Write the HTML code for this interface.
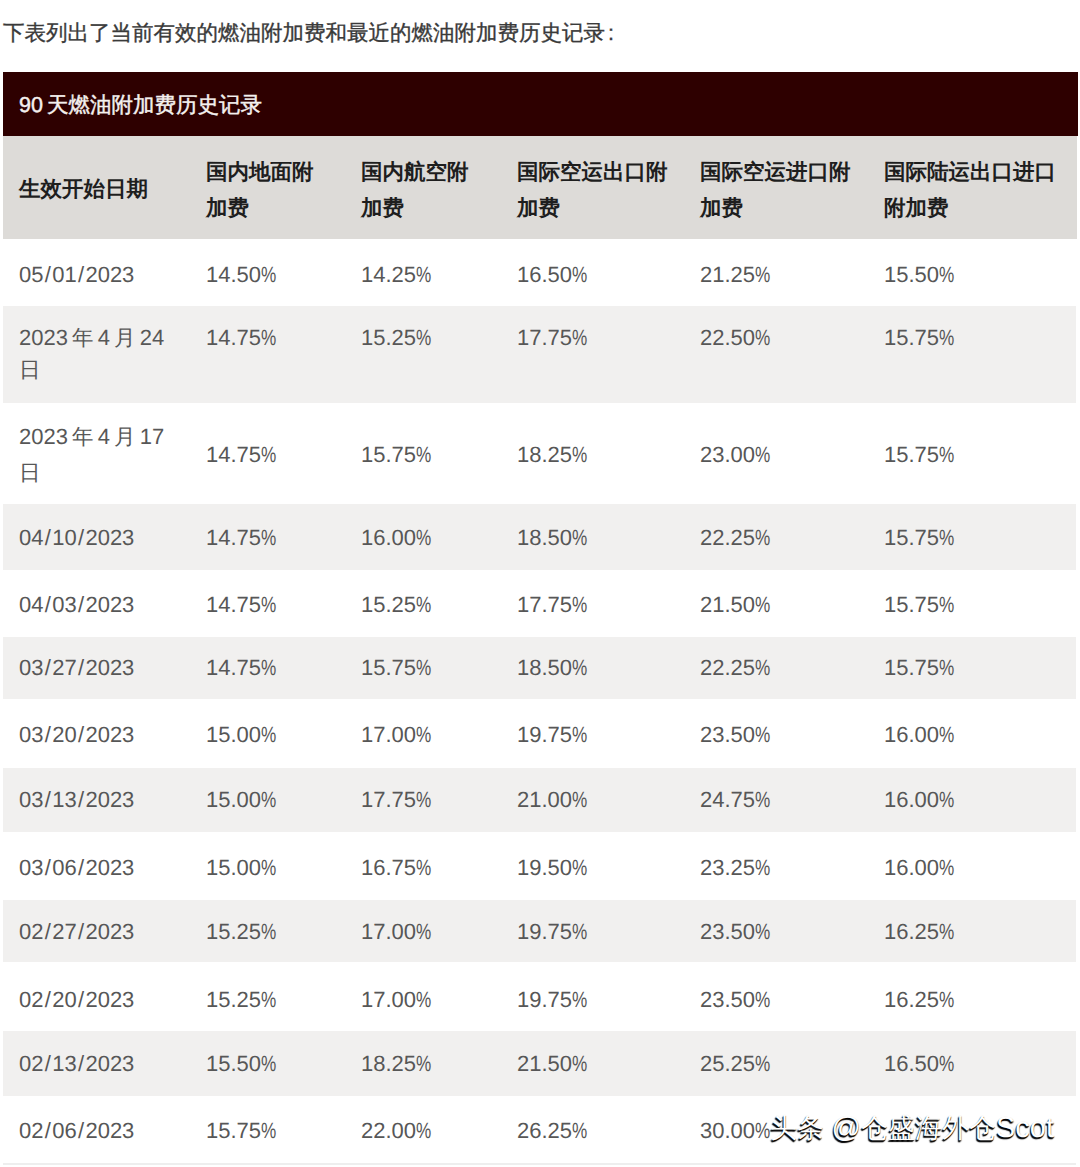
<!DOCTYPE html>
<html><head><meta charset="utf-8"><style>
html,body{margin:0;padding:0;background:#fff;width:1080px;height:1167px;overflow:hidden;position:relative}
body{font-family:"Liberation Sans",sans-serif;text-rendering:geometricPrecision}
.sl{margin:0 1.3px}
.pc{display:inline-block;transform:scaleX(.78);transform-origin:0 0}
.t,.h,.title,.bar,.wm{position:absolute;white-space:nowrap;line-height:40px;height:40px}
.t{font-size:22px;color:#575757}
.t .c{font-size:21.5px}
.ws{word-spacing:-2px}
.h{font-size:21.5px;color:#1e1e1e;font-weight:bold}
.title{font-size:21.5px;color:#3a3a3a;-webkit-text-stroke:0.35px #3a3a3a}
.bar{font-size:21.5px;color:#f4f0ee;-webkit-text-stroke:0.45px #f4f0ee;word-spacing:-2px}
.wm{font-size:27px;color:#fff;text-shadow:-1px 2px 1px #000,0 1px 1px #000;line-height:40px}
.wl{font-size:29px}
</style></head><body>
<div class="title" style="left:3px;top:13.0px">下表列出了当前有效的燃油附加费和最近的燃油附加费历史记录<span style="margin-left:3px">:</span></div>
<div style="position:absolute;left:3px;top:72px;width:1075px;height:64px;background:#2e0000"></div>
<div class="bar" style="left:19px;top:85.0px">90 天燃油附加费历史记录</div>
<div style="position:absolute;left:3px;top:136px;width:1074px;height:103px;background:#dddbd8"></div>
<div class="h" style="left:19px;top:168.5px">生效开始日期</div>
<div class="h" style="left:206px;top:151.5px">国内地面附</div>
<div class="h" style="left:206px;top:187.5px">加费</div>
<div class="h" style="left:361px;top:151.5px">国内航空附</div>
<div class="h" style="left:361px;top:187.5px">加费</div>
<div class="h" style="left:517px;top:151.5px">国际空运出口附</div>
<div class="h" style="left:517px;top:187.5px">加费</div>
<div class="h" style="left:700px;top:151.5px">国际空运进口附</div>
<div class="h" style="left:700px;top:187.5px">加费</div>
<div class="h" style="left:884px;top:151.5px">国际陆运出口进口</div>
<div class="h" style="left:884px;top:187.5px">附加费</div>
<div style="position:absolute;left:3px;top:306px;width:1073px;height:97px;background:#f1f0ef"></div>
<div style="position:absolute;left:3px;top:504px;width:1073px;height:66px;background:#f1f0ef"></div>
<div style="position:absolute;left:3px;top:637px;width:1073px;height:62px;background:#f1f0ef"></div>
<div style="position:absolute;left:3px;top:768px;width:1073px;height:64px;background:#f1f0ef"></div>
<div style="position:absolute;left:3px;top:900px;width:1073px;height:62px;background:#f1f0ef"></div>
<div style="position:absolute;left:3px;top:1031px;width:1073px;height:65px;background:#f1f0ef"></div>
<div class="t" style="left:19px;top:254.5px">05<span class="sl">/</span>01<span class="sl">/</span>2023</div>
<div class="t" style="left:206px;top:254.5px">14.50<span class="pc">%</span></div>
<div class="t" style="left:361px;top:254.5px">14.25<span class="pc">%</span></div>
<div class="t" style="left:517px;top:254.5px">16.50<span class="pc">%</span></div>
<div class="t" style="left:700px;top:254.5px">21.25<span class="pc">%</span></div>
<div class="t" style="left:884px;top:254.5px">15.50<span class="pc">%</span></div>
<div class="t ws" style="left:19px;top:318.4px">2023 <span class="c">年</span> 4 <span class="c">月</span> 24</div>
<div class="t" style="left:19px;top:349.8px"><span class="c">日</span></div>
<div class="t" style="left:206px;top:318.4px">14.75<span class="pc">%</span></div>
<div class="t" style="left:361px;top:318.4px">15.25<span class="pc">%</span></div>
<div class="t" style="left:517px;top:318.4px">17.75<span class="pc">%</span></div>
<div class="t" style="left:700px;top:318.4px">22.50<span class="pc">%</span></div>
<div class="t" style="left:884px;top:318.4px">15.75<span class="pc">%</span></div>
<div class="t ws" style="left:19px;top:417.4px">2023 <span class="c">年</span> 4 <span class="c">月</span> 17</div>
<div class="t" style="left:19px;top:452.7px"><span class="c">日</span></div>
<div class="t" style="left:206px;top:434.8px">14.75<span class="pc">%</span></div>
<div class="t" style="left:361px;top:434.8px">15.75<span class="pc">%</span></div>
<div class="t" style="left:517px;top:434.8px">18.25<span class="pc">%</span></div>
<div class="t" style="left:700px;top:434.8px">23.00<span class="pc">%</span></div>
<div class="t" style="left:884px;top:434.8px">15.75<span class="pc">%</span></div>
<div class="t" style="left:19px;top:517.5px">04<span class="sl">/</span>10<span class="sl">/</span>2023</div>
<div class="t" style="left:206px;top:517.5px">14.75<span class="pc">%</span></div>
<div class="t" style="left:361px;top:517.5px">16.00<span class="pc">%</span></div>
<div class="t" style="left:517px;top:517.5px">18.50<span class="pc">%</span></div>
<div class="t" style="left:700px;top:517.5px">22.25<span class="pc">%</span></div>
<div class="t" style="left:884px;top:517.5px">15.75<span class="pc">%</span></div>
<div class="t" style="left:19px;top:584.5px">04<span class="sl">/</span>03<span class="sl">/</span>2023</div>
<div class="t" style="left:206px;top:584.5px">14.75<span class="pc">%</span></div>
<div class="t" style="left:361px;top:584.5px">15.25<span class="pc">%</span></div>
<div class="t" style="left:517px;top:584.5px">17.75<span class="pc">%</span></div>
<div class="t" style="left:700px;top:584.5px">21.50<span class="pc">%</span></div>
<div class="t" style="left:884px;top:584.5px">15.75<span class="pc">%</span></div>
<div class="t" style="left:19px;top:647.9px">03<span class="sl">/</span>27<span class="sl">/</span>2023</div>
<div class="t" style="left:206px;top:647.9px">14.75<span class="pc">%</span></div>
<div class="t" style="left:361px;top:647.9px">15.75<span class="pc">%</span></div>
<div class="t" style="left:517px;top:647.9px">18.50<span class="pc">%</span></div>
<div class="t" style="left:700px;top:647.9px">22.25<span class="pc">%</span></div>
<div class="t" style="left:884px;top:647.9px">15.75<span class="pc">%</span></div>
<div class="t" style="left:19px;top:715.2px">03<span class="sl">/</span>20<span class="sl">/</span>2023</div>
<div class="t" style="left:206px;top:715.2px">15.00<span class="pc">%</span></div>
<div class="t" style="left:361px;top:715.2px">17.00<span class="pc">%</span></div>
<div class="t" style="left:517px;top:715.2px">19.75<span class="pc">%</span></div>
<div class="t" style="left:700px;top:715.2px">23.50<span class="pc">%</span></div>
<div class="t" style="left:884px;top:715.2px">16.00<span class="pc">%</span></div>
<div class="t" style="left:19px;top:779.5px">03<span class="sl">/</span>13<span class="sl">/</span>2023</div>
<div class="t" style="left:206px;top:779.5px">15.00<span class="pc">%</span></div>
<div class="t" style="left:361px;top:779.5px">17.75<span class="pc">%</span></div>
<div class="t" style="left:517px;top:779.5px">21.00<span class="pc">%</span></div>
<div class="t" style="left:700px;top:779.5px">24.75<span class="pc">%</span></div>
<div class="t" style="left:884px;top:779.5px">16.00<span class="pc">%</span></div>
<div class="t" style="left:19px;top:847.5px">03<span class="sl">/</span>06<span class="sl">/</span>2023</div>
<div class="t" style="left:206px;top:847.5px">15.00<span class="pc">%</span></div>
<div class="t" style="left:361px;top:847.5px">16.75<span class="pc">%</span></div>
<div class="t" style="left:517px;top:847.5px">19.50<span class="pc">%</span></div>
<div class="t" style="left:700px;top:847.5px">23.25<span class="pc">%</span></div>
<div class="t" style="left:884px;top:847.5px">16.00<span class="pc">%</span></div>
<div class="t" style="left:19px;top:912.0px">02<span class="sl">/</span>27<span class="sl">/</span>2023</div>
<div class="t" style="left:206px;top:912.0px">15.25<span class="pc">%</span></div>
<div class="t" style="left:361px;top:912.0px">17.00<span class="pc">%</span></div>
<div class="t" style="left:517px;top:912.0px">19.75<span class="pc">%</span></div>
<div class="t" style="left:700px;top:912.0px">23.50<span class="pc">%</span></div>
<div class="t" style="left:884px;top:912.0px">16.25<span class="pc">%</span></div>
<div class="t" style="left:19px;top:979.7px">02<span class="sl">/</span>20<span class="sl">/</span>2023</div>
<div class="t" style="left:206px;top:979.7px">15.25<span class="pc">%</span></div>
<div class="t" style="left:361px;top:979.7px">17.00<span class="pc">%</span></div>
<div class="t" style="left:517px;top:979.7px">19.75<span class="pc">%</span></div>
<div class="t" style="left:700px;top:979.7px">23.50<span class="pc">%</span></div>
<div class="t" style="left:884px;top:979.7px">16.25<span class="pc">%</span></div>
<div class="t" style="left:19px;top:1043.8px">02<span class="sl">/</span>13<span class="sl">/</span>2023</div>
<div class="t" style="left:206px;top:1043.8px">15.50<span class="pc">%</span></div>
<div class="t" style="left:361px;top:1043.8px">18.25<span class="pc">%</span></div>
<div class="t" style="left:517px;top:1043.8px">21.50<span class="pc">%</span></div>
<div class="t" style="left:700px;top:1043.8px">25.25<span class="pc">%</span></div>
<div class="t" style="left:884px;top:1043.8px">16.50<span class="pc">%</span></div>
<div class="t" style="left:19px;top:1111.4px">02<span class="sl">/</span>06<span class="sl">/</span>2023</div>
<div class="t" style="left:206px;top:1111.4px">15.75<span class="pc">%</span></div>
<div class="t" style="left:361px;top:1111.4px">22.00<span class="pc">%</span></div>
<div class="t" style="left:517px;top:1111.4px">26.25<span class="pc">%</span></div>
<div class="t" style="left:700px;top:1111.4px">30.00<span class="pc">%</span></div>
<div style="position:absolute;left:3px;top:1163px;width:1073px;height:2px;background:#eeeeee"></div>
<div class="wm" style="left:770px;top:1108px">头条 <span class="wl">@</span>仓盛海外仓<span class="wl">Scot</span></div>
</body></html>
